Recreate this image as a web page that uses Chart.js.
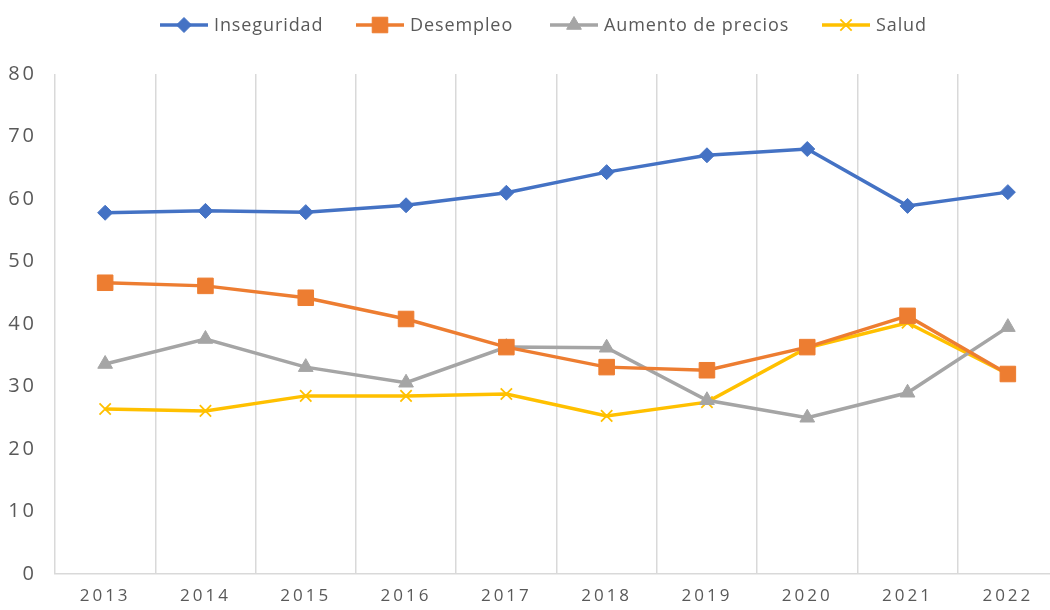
<!DOCTYPE html>
<html>
<head>
<meta charset="utf-8">
<script src="https://cdn.jsdelivr.net/npm/chart.js@4.4.1/dist/chart.umd.min.js"></script>
<style>
  html, body { margin: 0; padding: 0; background: #fff; overflow: hidden; }
  #wrap { width: 1070px; height: 610px; position: relative; }
</style>
</head>
<body>
<div id="wrap"><canvas id="c"></canvas></div>
<script>
var years = ["2013", "2014", "2015", "2016", "2017", "2018", "2019", "2020", "2021", "2022"];
var inseguridad = [57.8, 58.1, 57.9, 59.0, 61.0, 64.3, 67.0, 68.0, 58.9, 61.1];
var desempleo = [46.6, 46.1, 44.2, 40.8, 36.3, 33.1, 32.6, 36.3, 41.3, 32.0];
var aumentoPrecios = [33.6, 37.6, 33.1, 30.6, 36.3, 36.2, 27.8, 25.0, 29.0, 39.5];
var salud = [26.4, 26.1, 28.5, 28.5, 28.8, 25.3, 27.5, 36.2, 40.2, 32.0];
var yTicks = [0, 10, 20, 30, 40, 50, 60, 70, 80];

var FONT = "'Open Sans', sans-serif";
var TEXT = "#595959";

function series(label, data, color, style, radius, bw) {
  return {
    label: label,
    data: data,
    borderColor: color,
    backgroundColor: color,
    pointBackgroundColor: color,
    pointBorderColor: color,
    pointStyle: style,
    pointRadius: radius,
    pointBorderWidth: bw,
    borderWidth: 3.5,
    tension: 0
  };
}

var datasets = [
  series("Inseguridad", inseguridad, "#4472C4", "rectRot", 7.5, 1),
  series("Desempleo", desempleo, "#ED7D31", "rect", 11, 1),
  series("Aumento de precios", aumentoPrecios, "#A5A5A5", "triangle", 8.5, 1),
  series("Salud", salud, "#FFC000", "crossRot", 8, 1.8)
];

// wider letter spacing for the axis labels, like the original
var spacingPlugin = {
  id: "spacing",
  beforeDraw: function (chart) { chart.ctx.letterSpacing = "3px"; },
  afterDraw: function (chart) { chart.ctx.letterSpacing = "0px"; }
};

// legend drawn by hand: short line with the marker in its middle
var legendPlugin = {
  id: "lineLegend",
  afterDraw: function (chart) {
    var ctx = chart.ctx;
    var starts = [160, 356, 550, 822];
    var y = 25;
    ctx.save();
    ctx.letterSpacing = "0.9px";
    ctx.font = "18px " + FONT;
    ctx.textBaseline = "middle";
    chart.data.datasets.forEach(function (ds, i) {
      var x0 = starts[i];
      ctx.strokeStyle = ds.borderColor;
      ctx.lineWidth = 3.5;
      ctx.beginPath();
      ctx.moveTo(x0, y);
      ctx.lineTo(x0 + 48, y);
      ctx.stroke();
      ctx.fillStyle = ds.pointBackgroundColor;
      ctx.strokeStyle = ds.pointBorderColor;
      ctx.lineWidth = ds.pointBorderWidth;
      Chart.helpers.drawPoint(ctx, { pointStyle: ds.pointStyle, radius: ds.pointRadius, borderWidth: ds.pointBorderWidth, rotation: 0 }, x0 + 24, y);
      ctx.fillStyle = TEXT;
      ctx.fillText(ds.label, x0 + 54, y + 1);
    });
    ctx.restore();
  }
};

new Chart(document.getElementById("c").getContext("2d"), {
  type: "line",
  data: { labels: years, datasets: datasets },
  plugins: [spacingPlugin, legendPlugin],
  options: {
    responsive: true,
    maintainAspectRatio: false,
    animation: false,
    layout: { padding: { top: 74, right: 12, left: 0, bottom: 0 } },
    plugins: {
      legend: { display: false },
      tooltip: { enabled: false }
    },
    scales: {
      x: {
        offset: true,
        grid: { display: true, offset: true, color: "#D9D9D9", lineWidth: 1.5, drawTicks: false },
        border: { display: true, color: "#D9D9D9", width: 1.5 },
        ticks: { color: TEXT, font: { family: FONT, size: 17 }, padding: 12, maxRotation: 0 },
        afterFit: function (s) { s.height = 36; }
      },
      y: {
        min: 0,
        max: 80,
        afterBuildTicks: function (s) { s.ticks = yTicks.map(function (v) { return { value: v }; }); },
        grid: { display: false },
        border: { display: false },
        ticks: { color: TEXT, font: { family: FONT, size: 20 }, padding: 10 },
        afterFit: function (s) { s.width = 55; }
      }
    }
  }
});
</script>
</body>
</html>
